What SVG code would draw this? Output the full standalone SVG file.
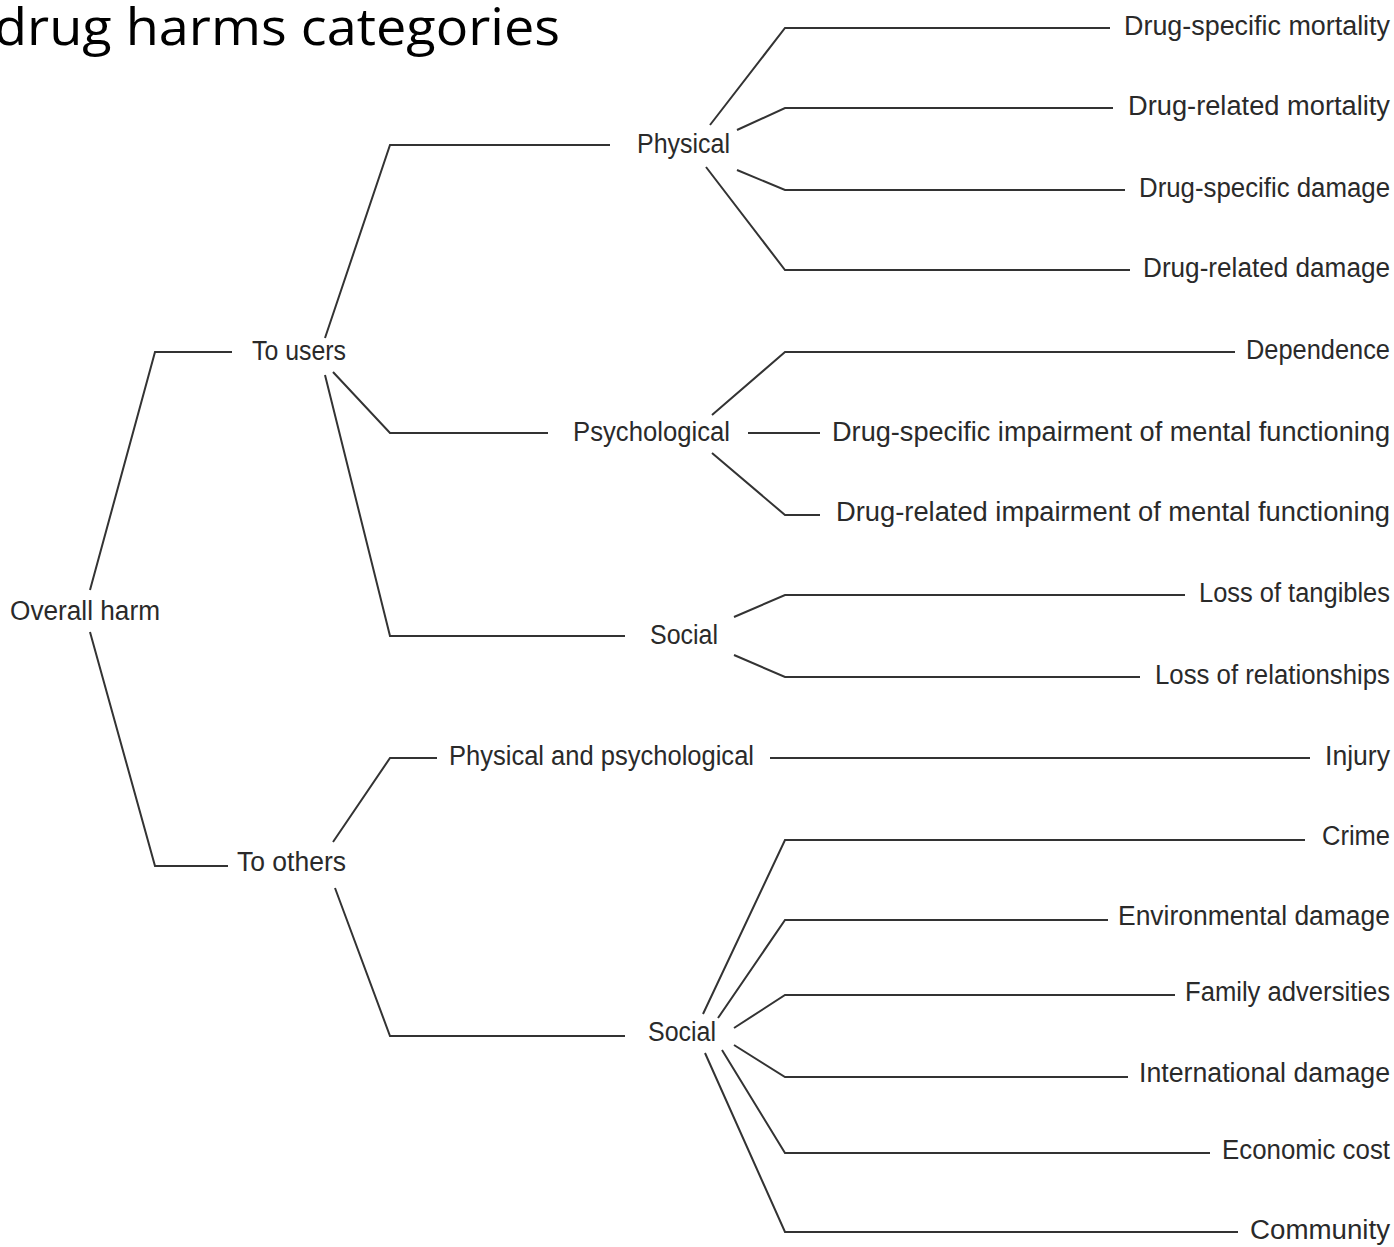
<svg xmlns="http://www.w3.org/2000/svg" width="1394" height="1247" viewBox="0 0 1394 1247">
<style>
.bg{fill:#ffffff}
.title{font-family:"Open Sans","Liberation Sans",sans-serif;font-size:52px;fill:#000}
.lbl{font-family:"Liberation Sans","DejaVu Sans",sans-serif;font-size:27px;fill:#2a2a2a}
.r{text-anchor:end}
.c path{fill:none;stroke:#333;stroke-width:2;stroke-linejoin:miter}
</style>
<rect class="bg" x="0" y="0" width="1394" height="1247"/>
<text class="title" x="-6" y="45" textLength="566" lengthAdjust="spacingAndGlyphs">drug harms categories</text>
<g class="c" id="connectors">
<path d="M232,352 H155 L90,590"/>
<path d="M90,632 L155,866 H228"/>
<path d="M325,338 L390,145 H610"/>
<path d="M333,372 L390,433 H548"/>
<path d="M325,375 L390,636 H625"/>
<path d="M333,842 L390,758 H437"/>
<path d="M335,888 L390,1036 H625"/>
<path d="M710,125 L785,28 H1110"/>
<path d="M737,130 L785,108 H1113"/>
<path d="M737,170 L785,190 H1125"/>
<path d="M706,167 L785,270 H1130"/>
<path d="M712,415 L785,352 H1235"/>
<path d="M748,433 H820"/>
<path d="M712,453 L785,515 H820"/>
<path d="M734,617 L785,595 H1185"/>
<path d="M734,655 L785,677 H1140"/>
<path d="M770,758 H1310"/>
<path d="M703,1014 L785,840 H1305"/>
<path d="M718,1018 L785,920 H1108"/>
<path d="M734,1028 L785,995 H1175"/>
<path d="M734,1045 L785,1077 H1128"/>
<path d="M722,1050 L785,1153 H1210"/>
<path d="M705,1053 L785,1232 H1238"/>
</g>
<g id="overall-harm"><text class="lbl" x="10" y="620" textLength="150" lengthAdjust="spacingAndGlyphs">Overall harm</text></g>
<g id="to-users"><text class="lbl" x="252" y="360" textLength="94" lengthAdjust="spacingAndGlyphs">To users</text></g>
<g id="to-others"><text class="lbl" x="237" y="871" textLength="109" lengthAdjust="spacingAndGlyphs">To others</text></g>
<g id="physical"><text class="lbl" x="637" y="153" textLength="93" lengthAdjust="spacingAndGlyphs">Physical</text></g>
<g id="psychological"><text class="lbl" x="573" y="441" textLength="157" lengthAdjust="spacingAndGlyphs">Psychological</text></g>
<g id="social-users"><text class="lbl" x="650" y="644" textLength="68" lengthAdjust="spacingAndGlyphs">Social</text></g>
<g id="phys-psych"><text class="lbl" x="449" y="765" textLength="305" lengthAdjust="spacingAndGlyphs">Physical and psychological</text></g>
<g id="social-others"><text class="lbl" x="648" y="1041" textLength="68" lengthAdjust="spacingAndGlyphs">Social</text></g>
<g id="drug-specific-mortality"><text class="lbl" x="1124" y="35" textLength="266" lengthAdjust="spacingAndGlyphs">Drug-specific mortality</text></g>
<g id="drug-related-mortality"><text class="lbl" x="1128" y="115" textLength="262" lengthAdjust="spacingAndGlyphs">Drug-related mortality</text></g>
<g id="drug-specific-damage"><text class="lbl" x="1139" y="197" textLength="251" lengthAdjust="spacingAndGlyphs">Drug-specific damage</text></g>
<g id="drug-related-damage"><text class="lbl" x="1143" y="277" textLength="247" lengthAdjust="spacingAndGlyphs">Drug-related damage</text></g>
<g id="dependence"><text class="lbl" x="1246" y="359" textLength="144" lengthAdjust="spacingAndGlyphs">Dependence</text></g>
<g id="drug-specific-impairment"><text class="lbl" x="832" y="441" textLength="558" lengthAdjust="spacingAndGlyphs">Drug-specific impairment of mental functioning</text></g>
<g id="drug-related-impairment"><text class="lbl" x="836" y="521" textLength="554" lengthAdjust="spacingAndGlyphs">Drug-related impairment of mental functioning</text></g>
<g id="loss-of-tangibles"><text class="lbl" x="1199" y="602" textLength="191" lengthAdjust="spacingAndGlyphs">Loss of tangibles</text></g>
<g id="loss-of-relationships"><text class="lbl" x="1155" y="684" textLength="235" lengthAdjust="spacingAndGlyphs">Loss of relationships</text></g>
<g id="injury"><text class="lbl" x="1325" y="765" textLength="65" lengthAdjust="spacingAndGlyphs">Injury</text></g>
<g id="crime"><text class="lbl" x="1322" y="845" textLength="68" lengthAdjust="spacingAndGlyphs">Crime</text></g>
<g id="environmental-damage"><text class="lbl" x="1118" y="925" textLength="272" lengthAdjust="spacingAndGlyphs">Environmental damage</text></g>
<g id="family-adversities"><text class="lbl" x="1185" y="1001" textLength="205" lengthAdjust="spacingAndGlyphs">Family adversities</text></g>
<g id="international-damage"><text class="lbl" x="1139" y="1082" textLength="251" lengthAdjust="spacingAndGlyphs">International damage</text></g>
<g id="economic-cost"><text class="lbl" x="1222" y="1159" textLength="168" lengthAdjust="spacingAndGlyphs">Economic cost</text></g>
<g id="community"><text class="lbl" x="1250" y="1239" textLength="140" lengthAdjust="spacingAndGlyphs">Community</text></g>
</svg>
